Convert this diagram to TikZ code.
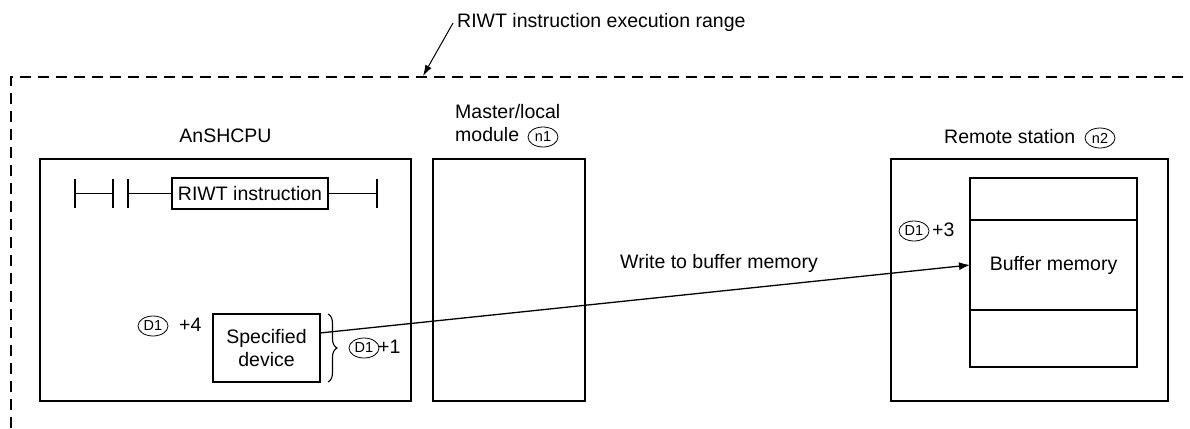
\documentclass[tikz,border=0pt]{standalone}
\usepackage{fontspec}
\setmainfont{Liberation Sans}
\usetikzlibrary{shapes.geometric,arrows.meta,decorations.pathreplacing}
\begin{document}
\begin{tikzpicture}[x=1pt,y=-1pt,
  lbl/.style={font=\fontsize{19.5}{22.5}\selectfont, inner sep=0pt},
  boxline/.style={draw, line width=1.3pt, rectangle, inner sep=0pt, outer sep=0pt},
  oval/.style={draw, ellipse, line width=0.8pt, inner sep=0pt, minimum width=30pt, minimum height=20pt, font=\fontsize{14.5}{14.5}\selectfont},
  wire/.style={line width=1.3pt},
  execrange/.style={line width=1.6pt, dash pattern=on 11pt off 7pt}
]
\useasboundingbox (0,0) rectangle (1190,428);

% execution range
\coordinate (rc) at (11,77);
\coordinate (rr) at (1190,77);
\coordinate (rb) at (11,428);
\draw[execrange] (rb) -- (rc) -- (rr);
\node[lbl, anchor=west] (rng) at (457,22) {RIWT instruction execution range};
\coordinate (ls) at (453,23);
\coordinate (le) at (423,76);
\draw[line width=1pt, -{Latex[length=11pt,width=7pt]}] (ls) -- (le);

% main boxes
\node[boxline, minimum width=371pt, minimum height=242pt] (cpu) at (225.5,280) {};
\node[boxline, minimum width=152pt, minimum height=242pt] (mst) at (509,280) {};
\node[boxline, minimum width=277pt, minimum height=242pt] (rem) at (1029.5,280) {};

\node[lbl] (cpul) at (225.5,136) {AnSHCPU};
\node[lbl, anchor=base west] (mstl1) at (455,118) {Master/local};
\node[lbl, anchor=base west] (mstl2) at (455,141) {module};
\node[oval] (n1) at (543,137) {n1};
\node[lbl, anchor=base west] (reml) at (944,143) {Remote station};
\node[oval] (n2) at (1100,138) {n2};

% ladder
\node[boxline, minimum width=156pt, minimum height=31pt, lbl] (riwt) at (250,193.5) {RIWT instruction};
\coordinate (a1) at (75,179);  \coordinate (a2) at (75,208);  \coordinate (am) at (75,193.5);
\coordinate (b1) at (113,179); \coordinate (b2) at (113,208); \coordinate (bm) at (113,193.5);
\coordinate (c1) at (128,179); \coordinate (c2) at (128,208); \coordinate (cm) at (128,193.5);
\coordinate (e1) at (377,179); \coordinate (e2) at (377,208); \coordinate (em) at (377,193.5);
\draw[wire] (a1) -- (a2);
\draw[wire] (am) -- (bm);
\draw[wire] (b1) -- (b2);
\draw[wire] (c1) -- (c2);
\draw[wire] (cm) -- (riwt.west);
\draw[wire] (riwt.east) -- (em);
\draw[wire] (e1) -- (e2);

% specified device
\node[boxline, minimum width=107pt, minimum height=68pt, lbl, align=center] (dev) at (266.5,348) {Specified\\device};
\node[oval] (d4) at (153,326) {D1};
\node[lbl, anchor=west] (p4) at (179,325) {+4};
\coordinate (br1) at (328,314);
\coordinate (br2) at (328,382);
\draw[line width=1.1pt, decorate, decoration={brace, amplitude=9pt}] (br1) -- (br2);
\node[oval] (d1) at (364,348) {D1};
\node[lbl, anchor=west] (p1) at (378,347) {+1};

% buffer memory
\node[boxline, minimum width=167pt, minimum height=42pt] (top) at (1053.5,199) {};
\node[boxline, minimum width=167pt, minimum height=90pt, lbl] (mid) at (1053.5,265) {Buffer memory};
\node[boxline, minimum width=167pt, minimum height=57pt] (bot) at (1053.5,338.5) {};
\node[oval] (d3) at (914,231) {D1};
\node[lbl, anchor=west] (p3) at (932,230) {+3};

% transfer
\node[lbl, anchor=base west] (wr) at (620,268) {Write to buffer memory};
\draw[wire, -{Latex[length=11pt,width=8pt]}] ([yshift=15pt]dev.east) -- (mid.west);
\end{tikzpicture}
\end{document}
